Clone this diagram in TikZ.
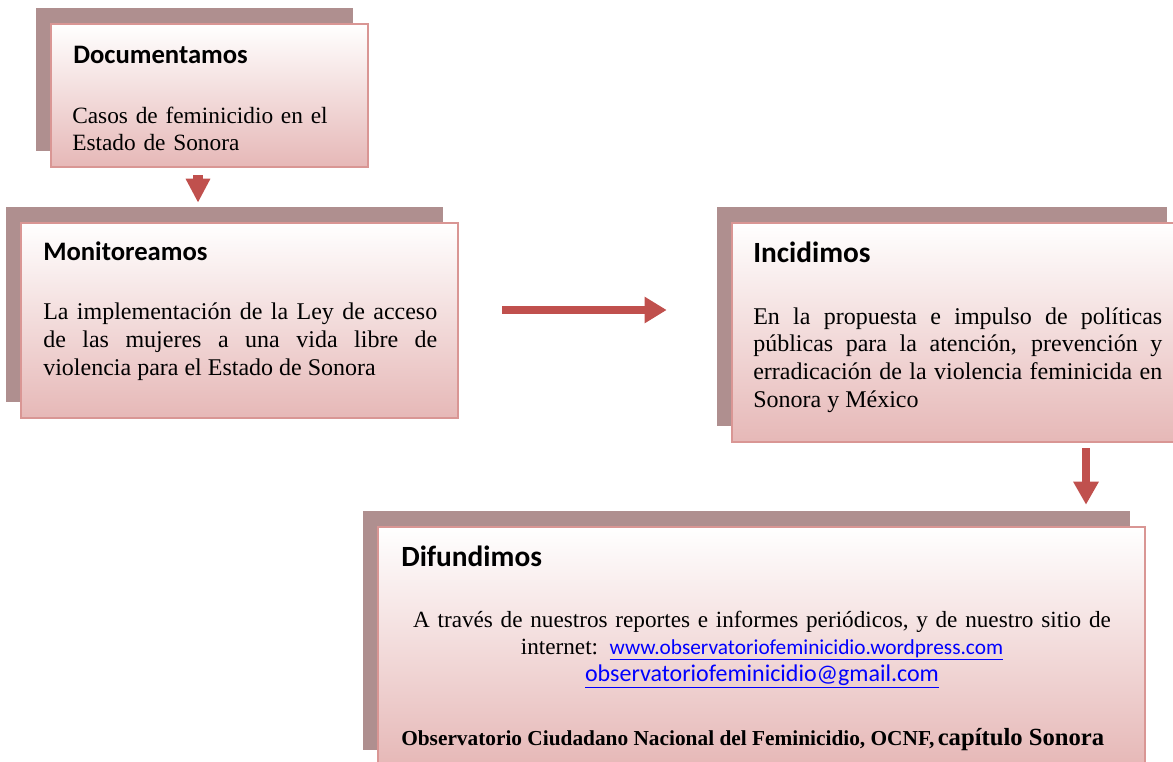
\documentclass[tikz,border=0pt]{standalone}
\usepackage{fontspec}
\setmainfont{Liberation Serif}
\newfontfamily\headfont{Carlito}
\usetikzlibrary{arrows.meta, calc}
\definecolor{shadowmauve}{RGB}{175,143,143}
\definecolor{boxborder}{RGB}{217,150,148}
\definecolor{boxpink}{RGB}{230,184,183}
\definecolor{arrowred}{RGB}{192,80,77}
\definecolor{linkblue}{RGB}{0,0,255}

\tikzset{
  backbox/.style={rectangle, fill=shadowmauve, inner sep=0pt},
  frontbox/.style={rectangle, draw=boxborder, line width=2pt,
    top color=white, bottom color=boxpink, inner sep=0pt},
  headtext/.style={anchor=base west, inner sep=0pt,
    font=\headfont\bfseries\fontsize{20}{24}\selectfont},
  bodytext/.style={anchor=base west, inner sep=0pt,
    font=\fontsize{18}{20.8}\selectfont},
  bigarrow/.style={draw=arrowred, line width=6pt}
}

\begin{document}
\begin{tikzpicture}[x=0.75pt, y=-0.75pt]
    \clip (0,0) rectangle (1173,761);

    \node[backbox,
    minimum width=237.75pt,
    minimum height=107.25pt] (docback) at (194.5,79.5) {};
    \node[frontbox,
    minimum width=237.75pt,
    minimum height=107.25pt] (doc) at (209.5,95.5) {};
    \node[headtext] (dochead) at (73,63) {Documentamos};
    \node[bodytext, text width=260pt, align=left,
    font=\fontsize{17.5}{20.25}\selectfont] (docbody) at (72,123)
    {Casos de feminicidio en el\\Estado de Sonora};

    \node[backbox,
    minimum width=327.75pt,
    minimum height=146.25pt] (monback) at (224.5,304.5) {};
    \node[frontbox,
    minimum width=327.75pt,
    minimum height=146.25pt] (mon) at (239.5,320.5) {};
    \node[headtext] (monhead) at (43,260) {Monitoreamos};
    \node[bodytext, text width=295.5pt, align=justify,
    font=\fontsize{18}{21}\selectfont] (monbody) at (43,319)
    {La implementación de la Ley de acceso\linebreak
    de las mujeres a una vida libre de\linebreak
    violencia para el Estado de Sonora};

    \node[backbox,
    minimum width=337.5pt,
    minimum height=164.25pt] (incback) at (942,316.5) {};
    \node[frontbox,
    minimum width=337.5pt,
    minimum height=164.25pt] (inc) at (957,332.5) {};
    \node[headtext, font=\headfont\bfseries\fontsize{22}{26}\selectfont]
    (inchead) at (753,262) {Incidimos};
    \node[bodytext, text width=306.75pt, align=justify] (incbody) at (753,324)
    {En la propuesta e impulso de políticas\linebreak
    públicas para la atención, prevención y\linebreak
    erradicación de la violencia feminicida en\linebreak
    Sonora y México};

    \node[backbox,
    minimum width=575.25pt,
    minimum height=179.25pt] (difback) at (746.5,630.5) {};
    \node[frontbox,
    minimum width=575.25pt,
    minimum height=179.25pt] (dif) at (761.5,646.5) {};
    \node[headtext, font=\headfont\bfseries\fontsize{22}{26}\selectfont]
    (difhead) at (401,566) {Difundimos};
    \node[bodytext, anchor=base, text width=640pt, align=center,
    font=\fontsize{17.4}{20.25}\selectfont] (difbody) at (762,627)
    {A través de nuestros reportes e informes periódicos, y de nuestro sitio de\\
    internet: {\headfont\fontsize{16}{20.25}\selectfont\color{linkblue}\underline{www.observatoriofeminicidio.wordpress.com}}\\
    {\headfont\fontsize{18}{20.25}\selectfont\color{linkblue}\underline{observatoriofeminicidio@gmail.com}}};
    \node[bodytext, font=\bfseries] (difsign) at (401,745)
    {{\fontsize{16}{20}\selectfont Observatorio Ciudadano Nacional del Feminicidio, OCNF,}
    {\fontsize{18.5}{20}\selectfont capítulo Sonora}};

    \draw[bigarrow, line width=7.5pt, -{Triangle[length=18pt, width=17.25pt]}]
    ($(doc.south)+(-11.5,7)$) -- ($(monback.north)+(-26.5,-4)$);
    \draw[bigarrow, -{Triangle[length=16.5pt, width=18.75pt]}]
    ($(mon.east)+(43,-10.5)$) -- ($(inc.west)+(-64,-22.5)$);
    \draw[bigarrow, -{Triangle[length=17.25pt, width=18pt]}]
    ($(inc.south)+(129,5)$) -- ($(difback.north)+(339.5,-6)$);
\end{tikzpicture}
\end{document}
